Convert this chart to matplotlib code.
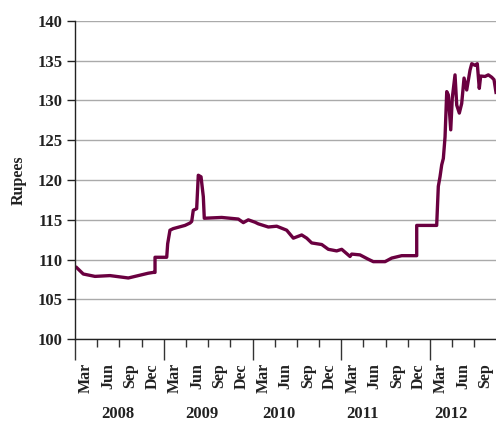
import matplotlib.pyplot as plt
from matplotlib.transforms import blended_transform_factory

# x = months since 1 March 2008, y = rupees
months = [0.23, 1.12, 2.70, 4.73, 7.21, 9.91, 10.59, 10.82, 10.82, 12.40,
          12.53, 12.84, 13.29, 14.87, 15.55, 15.78, 15.99, 16.45, 16.67, 17.04,
          17.35, 17.48, 19.84, 22.08, 22.76, 23.43, 24.34, 24.78, 26.14, 27.27,
          28.62, 29.52, 30.65, 31.33, 32.00, 33.36, 34.25, 35.38, 36.06, 37.18,
          37.41, 38.53, 39.66, 40.33, 41.92, 42.82, 44.17, 45.97, 46.20, 46.20,
          48.90, 49.12, 49.35, 49.58, 49.80, 50.03, 50.26, 50.47, 50.80, 51.01,
          51.38, 51.61, 51.96, 52.28, 52.60, 52.96, 53.41, 53.64, 54.08, 54.39,
          54.66, 54.85, 55.44, 55.88, 56.34, 56.65, 56.92]
rupees = [109.0, 108.2, 107.9, 108.0, 107.7, 108.3, 108.4, 108.4, 110.3, 110.3,
          112.0, 113.7, 113.9, 114.3, 114.6, 114.8, 116.2, 116.4, 120.6, 120.4,
          117.9, 115.2, 115.3, 115.1, 114.65, 115.0, 114.7, 114.5, 114.1, 114.2,
          113.7, 112.7, 113.1, 112.7, 112.1, 111.9, 111.3, 111.1, 111.3, 110.4,
          110.7, 110.6, 110.05, 109.75, 109.75, 110.2, 110.5, 110.5, 110.5, 114.3,
          114.3, 119.2, 120.4, 121.9, 122.7, 125.4, 131.1, 130.7, 126.3, 130.3,
          133.2, 129.4, 128.4, 129.6, 132.8, 131.3, 133.8, 134.6, 134.4, 134.6,
          131.5, 133.05, 133.0, 133.2, 132.9, 132.6, 131.0]

years = ["2008", "2009", "2010", "2011", "2012"]
year_label_pos = [5.8, 17.2, 27.6, 38.9, 50.8]
quarter_names = ["Mar", "Jun", "Sep", "Dec"]

FONT = "Liberation Serif"
TXT = "#222222"

fig = plt.figure(figsize=(4.96, 4.25), dpi=100)
ax = fig.add_axes([0.1512, 0.2016, 0.8488, 0.7497])

ax.plot(months, rupees, color="#6A0040", linewidth=2.4, solid_joinstyle="round")

ax.set_ylim(100, 140)
ax.set_xlim(0, 56.92)
ax.set_yticks(range(100, 141, 5))
ax.grid(axis="y", color="#aaaaaa", linewidth=1.0)
ax.set_axisbelow(True)

for side in ["top", "right"]:
    ax.spines[side].set_visible(False)
for side in ["left", "bottom"]:
    ax.spines[side].set_color(TXT)
    ax.spines[side].set_linewidth(1.0)

ax.tick_params(axis="y", length=6, width=1, color=TXT, pad=3)
for lab in ax.get_yticklabels():
    lab.set_fontfamily(FONT)
    lab.set_fontweight("bold")
    lab.set_fontsize(12)
    lab.set_color(TXT)

# quarter boundary ticks, longer at each March
bounds = list(range(0, 57, 3))
ax.set_xticks(bounds)
ax.set_xticklabels([""] * len(bounds))
ax.tick_params(axis="x", which="major", length=6, width=1, color="#333333")
for t, b in zip(ax.xaxis.get_major_ticks(), bounds):
    if b % 12 == 0:
        t.tick1line.set_markersize(15)
        t.tick1line.set_color("#666666")

mids = [b + 1.5 for b in bounds if b + 1.5 < 56.92]
ax.set_xticks(mids, minor=True)
ax.set_xticklabels([quarter_names[i % 4] for i in range(len(mids))], minor=True,
                   rotation=90, fontfamily=FONT, fontweight="bold", fontsize=11.5,
                   color=TXT)
ax.tick_params(axis="x", which="minor", length=0, pad=17)

trans = blended_transform_factory(ax.transData, ax.transAxes)
for yr, pos in zip(years, year_label_pos):
    ax.text(pos, -0.235, yr, transform=trans, ha="center", va="center",
            fontfamily=FONT, fontweight="bold", fontsize=12, color=TXT)

ax.set_ylabel("Rupees", fontfamily=FONT, fontweight="bold", fontsize=11.5,
              color=TXT, labelpad=8)

fig.savefig("out.png", dpi=100)
